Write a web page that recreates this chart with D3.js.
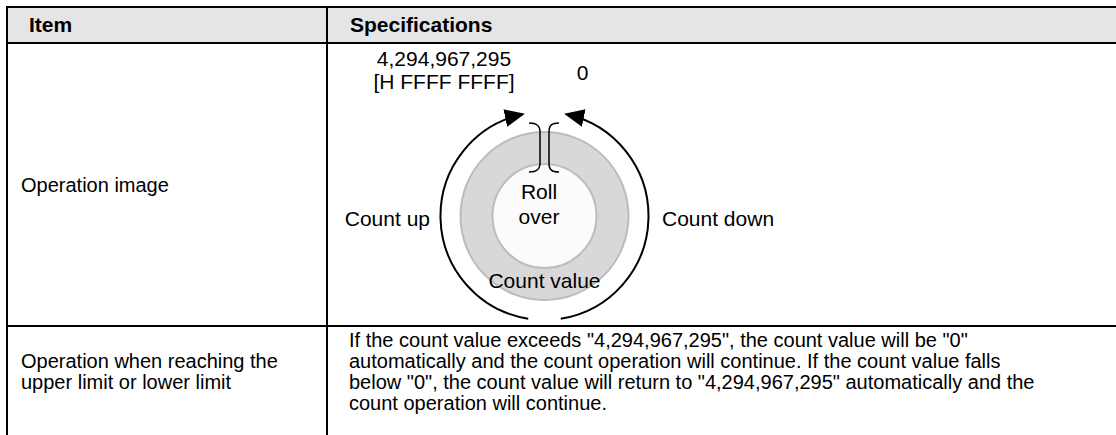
<!DOCTYPE html>
<html><head><meta charset="utf-8">
<script src="https://cdn.jsdelivr.net/npm/d3@7"></script>
<style>
html,body{margin:0;padding:0;background:#fff;}
text{font-family:"Liberation Sans",Arial,sans-serif;fill:#000;}
</style></head>
<body>
<svg id="c" width="1116" height="435"></svg>
<script>
// ---- data ----
const headers = ["Item", "Specifications"];
const rowLabels = [["Operation image"], ["Operation when reaching the", "upper limit or lower limit"]];
const specLines = [
  'If the count value exceeds "4,294,967,295", the count value will be "0"',
  'automatically and the count operation will continue. If the count value falls',
  'below "0", the count value will return to "4,294,967,295" automatically and the',
  'count operation will continue.'
];
const maxLabel = ["4,294,967,295", "[H FFFF FFFF]"];
const zeroLabel = "0";
const innerLabel = ["Roll", "over"];
const ringLabel = "Count value";
const dirLabels = ["Count up", "Count down"];

// ---- layout ----
const W = 1116, H = 435, FS = 20, FH = 21, FD = 21;
const svg = d3.select("#c");
const xCol = d3.scaleOrdinal().domain(headers).range([7, 327]);
const yRow = d3.scaleOrdinal().domain(["top","head","r1","end"]).range([7, 43, 326, 435]);

svg.append("rect").attr("x", 7).attr("y", yRow("top")).attr("width", W - 7)
  .attr("height", yRow("head") - yRow("top")).attr("fill", "#e5e5e5");

// grid lines
const hl = [yRow("top"), yRow("head"), yRow("r1")];
svg.selectAll("line.h").data(hl).join("line").attr("class","h")
  .attr("x1", 6).attr("x2", W).attr("y1", d => d).attr("y2", d => d)
  .attr("stroke", "#000").attr("stroke-width", 2.2);
svg.selectAll("line.v").data(headers).join("line").attr("class","v")
  .attr("x1", d => xCol(d)).attr("x2", d => xCol(d)).attr("y1", 6).attr("y2", H)
  .attr("stroke", "#000").attr("stroke-width", 2);

// header text
svg.selectAll("text.hd").data(headers).join("text").attr("class","hd")
  .attr("x", (d, i) => i === 0 ? 29 : 350).attr("y", 32)
  .attr("font-size", FH).attr("font-weight", "bold").text(d => d);

// left labels
const LH = 21, pTop = 347;
svg.append("text").attr("x", 21).attr("y", 192).attr("font-size", FS).text(rowLabels[0][0]);
const lbl2 = svg.append("text").attr("font-size", FS);
rowLabels[1].forEach((t, i) => lbl2.append("tspan").attr("x", 21).attr("y", pTop + (i + 1) * LH).text(t));

// spec paragraph
const para = svg.append("text").attr("font-size", FS);
specLines.forEach((t, i) => para.append("tspan").attr("x", 349).attr("y", pTop + i * LH).text(t));

// ---- diagram ----
const cx = 544.5, cy = 216;
svg.append("circle").attr("cx", cx).attr("cy", cy).attr("r", 84)
  .attr("fill", "#d9d7d8").attr("stroke", "#bcbcbc").attr("stroke-width", 2);
svg.append("circle").attr("cx", cx).attr("cy", cy).attr("r", 52)
  .attr("fill", "#fbfbfb").attr("stroke", "#bdbdbd").attr("stroke-width", 2);

// arrow marker
const defs = svg.append("defs");
defs.append("marker").attr("id", "ah").attr("markerUnits", "userSpaceOnUse")
  .attr("viewBox", "0 0 20 18").attr("refX", 18).attr("refY", 9)
  .attr("markerWidth", 20).attr("markerHeight", 18).attr("orient", "auto")
  .append("path").attr("d", "M0,0 L20,9 L0,18 Z").attr("fill", "#000");

const R = 104, deg = Math.PI / 180;
const pL = d3.path(); pL.arc(cx, cy, R, 99 * deg, 258 * deg, false);
const pR = d3.path(); pR.arc(cx, cy, R, 81 * deg, -78 * deg, true);
[pL, pR].forEach(p => svg.append("path").attr("d", p.toString()).attr("fill", "none")
  .attr("stroke", "#000").attr("stroke-width", 2).attr("marker-end", "url(#ah)"));

// braces
const br = [
  "M529,123 C536,123 540,125 540,132 L540,163 C540,170 536,172 529,172",
  "M559,123 C552,123 549,125 549,132 L549,163 C549,170 552,172 559,172"
];
svg.selectAll("path.br").data(br).join("path").attr("class","br").attr("d", d => d)
  .attr("fill", "none").attr("stroke", "#000").attr("stroke-width", 1.5);

// diagram labels
const ml = svg.append("text").attr("font-size", FD).attr("text-anchor", "middle");
maxLabel.forEach((t, i) => ml.append("tspan").attr("x", 444).attr("y", 66 + i * 23).text(t));
svg.append("text").attr("font-size", FD).attr("text-anchor", "middle").attr("x", 582.5).attr("y", 80).text(zeroLabel);
const il = svg.append("text").attr("font-size", FD).attr("text-anchor", "middle");
innerLabel.forEach((t, i) => il.append("tspan").attr("x", 539).attr("y", 199 + i * 25).text(t));
svg.append("text").attr("font-size", FD).attr("text-anchor", "middle").attr("x", 544.5).attr("y", 288).text(ringLabel);
svg.append("text").attr("font-size", FD).attr("text-anchor", "end").attr("x", 430).attr("y", 226).text(dirLabels[0]);
svg.append("text").attr("font-size", FD).attr("x", 662).attr("y", 226).text(dirLabels[1]);
</script>
</body></html>
